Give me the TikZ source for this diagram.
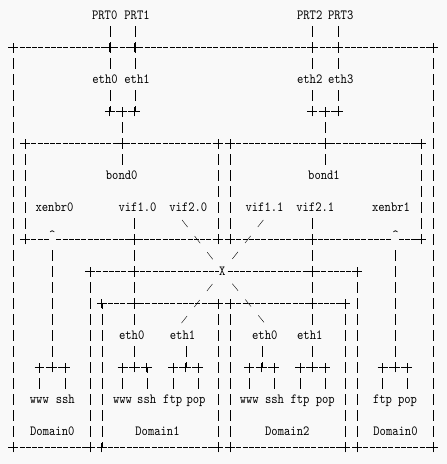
\documentclass[tikz,border=0pt]{standalone}
\usepackage{fontspec}
\newfontfamily\asc{lmmono10-regular.otf}[FakeStretch=0.86]
\usetikzlibrary{shapes.misc}
\pgfdeclarelayer{wires}
\pgfsetlayers{wires,main}
\definecolor{bg}{RGB}{249,249,249}
\begin{document}
\begin{tikzpicture}[x=1pt, y=-1pt, line width=0.9pt,
	lbl/.style = {fill=bg, inner sep=0.5pt, text height=9.2pt, text depth=0.6pt, font=\asc\fontsize{14pt}{16pt}\selectfont},
	crt/.style = {lbl, anchor=base, text depth=5.5pt},
	jn/.style = {draw, cross out, rotate=45, minimum size=6pt, inner sep=0pt},
	hl/.style = {dash pattern=on 5pt off 1.25pt},
	vl/.style = {dash pattern=on 10.7pt off 5.3pt, dash phase=5.35pt},
	dg/.style = {dash pattern=on 9pt off 11.4pt, dash phase=4.5pt}]
	\useasboundingbox (0,0) rectangle (447,464);
	% ports and nics
	\node[lbl] (prt0) at (104.7,15.5) {PRT0};
	\node[lbl] (prt1) at (137,15.5) {PRT1};
	\node[lbl] (prt2) at (309.7,15.5) {PRT2};
	\node[lbl] (prt3) at (340.7,15.5) {PRT3};
	\node[lbl] (eth0) at (105,79.5) {eth0};
	\node[lbl] (eth1) at (137,79.5) {eth1};
	\node[lbl] (eth2) at (309.7,79.5) {eth2};
	\node[lbl] (eth3) at (340.7,79.5) {eth3};
	\node[lbl] (bond0) at (121.7,175.5) {bond0};
	\node[lbl] (bond1) at (324,175.5) {bond1};
	\node[lbl] (xenbr0) at (54.5,207.5) {xenbr0};
	\node[lbl] (vif10) at (137.5,207.5) {vif1.0};
	\node[lbl] (vif20) at (188.3,207.5) {vif2.0};
	\node[lbl] (vif11) at (264.5,207.5) {vif1.1};
	\node[lbl] (vif21) at (315.3,207.5) {vif2.1};
	\node[lbl] (xenbr1) at (391,207.5) {xenbr1};
	\node[crt] (br0) at (52.3,239.5) {\textasciicircum};
	\node[crt] (br1) at (395.5,239.5) {\textasciicircum};
	\node[lbl] (X) at (222.3,271.5) {X};
	% domains
	\node[lbl] (d1eth0) at (131.7,335.5) {eth0};
	\node[lbl] (d1eth1) at (182.5,335.5) {eth1};
	\node[lbl] (d2eth0) at (264.8,335.5) {eth0};
	\node[lbl] (d2eth1) at (309.8,335.5) {eth1};
	\node[lbl] (d0www) at (39.4,399.5) {www};
	\node[lbl] (d0ssh) at (65.3,399.5) {ssh};
	\node[lbl] (d1www) at (122.5,399.5) {www};
	\node[lbl] (d1ssh) at (146.7,399.5) {ssh};
	\node[lbl] (d1ftp) at (172.7,399.5) {ftp};
	\node[lbl] (d1pop) at (196,399.5) {pop};
	\node[lbl] (d2www) at (249.3,399.5) {www};
	\node[lbl] (d2ssh) at (274.5,399.5) {ssh};
	\node[lbl] (d2ftp) at (300,399.5) {ftp};
	\node[lbl] (d2pop) at (325.3,399.5) {pop};
	\node[lbl] (d3ftp) at (382.5,399.5) {ftp};
	\node[lbl] (d3pop) at (407.5,399.5) {pop};
	\node[lbl] (dom0) at (52.3,431.5) {Domain0};
	\node[lbl] (dom1) at (157.5,431.5) {Domain1};
	\node[lbl] (dom2) at (287.3,431.5) {Domain2};
	\node[lbl] (dom3) at (395.5,431.5) {Domain0};
	% junctions
	\node[jn] (tl) at (13.3,47.5) {};
	\node[jn] (p0) at (109.7,47.5) {};
	\node[jn] (p1) at (134.7,47.5) {};
	\node[jn] (p2) at (312.3,47.5) {};
	\node[jn] (p3) at (338.3,47.5) {};
	\node[jn] (tr) at (433.3,47.5) {};
	\node[jn] (bl) at (13.3,447.5) {};
	\node[jn] (br) at (433.3,447.5) {};
	\node[jn] (j0a) at (109.7,111.5) {};
	\node[jn] (j0m) at (122.3,111.5) {};
	\node[jn] (j0b) at (134.7,111.5) {};
	\node[jn] (j1a) at (312.3,111.5) {};
	\node[jn] (j1m) at (325,111.5) {};
	\node[jn] (j1b) at (338.3,111.5) {};
	\node[jn] (b0tl) at (25,143.5) {};
	\node[jn] (b0tm) at (122.3,143.5) {};
	\node[jn] (b0tr) at (218,143.5) {};
	\node[jn] (b0bl) at (25,239.5) {};
	\node[jn] (b0bm) at (134.3,239.5) {};
	\node[jn] (b0br) at (218,239.5) {};
	\node[jn] (b1tl) at (230,143.5) {};
	\node[jn] (b1tm) at (325,143.5) {};
	\node[jn] (b1tr) at (421,143.5) {};
	\node[jn] (b1bl) at (230,239.5) {};
	\node[jn] (b1bm) at (312.3,239.5) {};
	\node[jn] (b1br) at (421,239.5) {};
	\node[jn] (xl) at (90,271.5) {};
	\node[jn] (xa) at (134.3,271.5) {};
	\node[jn] (xb) at (312.3,271.5) {};
	\node[jn] (xr) at (357,271.5) {};
	\node[jn] (d0r) at (90,447.5) {};
	\node[jn] (d1tl) at (101.7,303.5) {};
	\node[jn] (d1tm) at (134.3,303.5) {};
	\node[jn] (d1tr) at (218,303.5) {};
	\node[jn] (d1bl) at (101.7,447.5) {};
	\node[jn] (d1br) at (218,447.5) {};
	\node[jn] (d2tl) at (230,303.5) {};
	\node[jn] (d2tm) at (312.3,303.5) {};
	\node[jn] (d2tr) at (345.5,303.5) {};
	\node[jn] (d2bl) at (230,447.5) {};
	\node[jn] (d2br) at (345.5,447.5) {};
	\node[jn] (d3l) at (357,447.5) {};
	\node[jn] (s0a) at (39.4,367.5) {};
	\node[jn] (s0m) at (52.3,367.5) {};
	\node[jn] (s0b) at (65.3,367.5) {};
	\node[jn] (s1a) at (122.5,367.5) {};
	\node[jn] (s1m) at (134.3,367.5) {};
	\node[jn] (s1b) at (146.7,367.5) {};
	\node[jn] (s2a) at (173,367.5) {};
	\node[jn] (s2m) at (185.7,367.5) {};
	\node[jn] (s2b) at (198.5,367.5) {};
	\node[jn] (s3a) at (249.3,367.5) {};
	\node[jn] (s3m) at (261.7,367.5) {};
	\node[jn] (s3b) at (274.5,367.5) {};
	\node[jn] (s4a) at (300,367.5) {};
	\node[jn] (s4m) at (312.3,367.5) {};
	\node[jn] (s4b) at (325.3,367.5) {};
	\node[jn] (s5a) at (382.5,367.5) {};
	\node[jn] (s5m) at (395.5,367.5) {};
	\node[jn] (s5b) at (407.5,367.5) {};
	\begin{pgfonlayer}{wires}
		\fill[bg] (0,0) rectangle (447,464);
		% horizontal runs
		\draw[hl] (tl.center) -- (tr.center);
		\draw[hl] (j0a.center) -- (j0b.center);
		\draw[hl] (j1a.center) -- (j1b.center);
		\draw[hl] (b0tl.center) -- (b0tr.center);
		\draw[hl] (b0bl.center) -- (b0br.center);
		\draw[hl] (b1tl.center) -- (b1tr.center);
		\draw[hl] (b1bl.center) -- (b1br.center);
		\draw[hl] (xl.center) -- (xr.center);
		\draw[hl] (d1tl.center) -- (d1tr.center);
		\draw[hl] (d1bl.center) -- (d1br.center);
		\draw[hl] (d2tl.center) -- (d2tr.center);
		\draw[hl] (d2bl.center) -- (d2br.center);
		\draw[hl] (bl.center) -- (d0r.center);
		\draw[hl] (d3l.center) -- (br.center);
		\draw[hl] (s0a.center) -- (s0b.center);
		\draw[hl] (s1a.center) -- (s1b.center);
		\draw[hl] (s2a.center) -- (s2b.center);
		\draw[hl] (s3a.center) -- (s3b.center);
		\draw[hl] (s4a.center) -- (s4b.center);
		\draw[hl] (s5a.center) -- (s5b.center);
		% vertical runs
		\draw[vl] (tl.center) -- (bl.center);
		\draw[vl] (tr.center) -- (br.center);
		\draw[vl] (prt0 -| p0) -- (eth0 -| p0);
		\draw[vl] (prt1 -| p1) -- (eth1 -| p1);
		\draw[vl] (prt2 -| p2) -- (eth2 -| p2);
		\draw[vl] (prt3 -| p3) -- (eth3 -| p3);
		\draw[vl] (eth0 -| j0a) -- (j0a.center);
		\draw[vl] (eth1 -| j0b) -- (j0b.center);
		\draw[vl] (eth2 -| j1a) -- (j1a.center);
		\draw[vl] (eth3 -| j1b) -- (j1b.center);
		\draw[vl] (j0m.center) -- (bond0 -| j0m);
		\draw[vl] (j1m.center) -- (bond1 -| j1m);
		\draw[vl] (b0tl.center) -- (b0bl.center);
		\draw[vl] (b0tr.center) -- (b0br.center);
		\draw[vl] (b1tl.center) -- (b1bl.center);
		\draw[vl] (b1tr.center) -- (b1br.center);
		\draw[vl] (vif10 -| xa) -- (d1eth0 -| xa);
		\draw[vl] (vif21 -| xb) -- (d2eth1 -| xb);
		\draw[vl] (xl.center) -- (d0r.center);
		\draw[vl] (xr.center) -- (d3l.center);
		\draw[vl] (d1tl.center) -- (d1bl.center);
		\draw[vl] (d1tr.center) -- (d1br.center);
		\draw[vl] (d2tl.center) -- (d2bl.center);
		\draw[vl] (d2tr.center) -- (d2br.center);
		\draw[vl] (br0.base) -- (s0m.center);
		\draw[vl] (br1.base) -- (s5m.center);
		\draw[vl] (d1eth0 -| s1m) -- (s1m.center);
		\draw[vl] (d1eth1 -| s2m) -- (s2m.center);
		\draw[vl] (d2eth0 -| s3m) -- (s3m.center);
		\draw[vl] (d2eth1 -| s4m) -- (s4m.center);
		\draw[vl] (s0a.center) -- (d0www -| s0a);
		\draw[vl] (s0b.center) -- (d0ssh -| s0b);
		\draw[vl] (s1a.center) -- (d1www -| s1a);
		\draw[vl] (s1b.center) -- (d1ssh -| s1b);
		\draw[vl] (s2a.center) -- (d1ftp -| s2a);
		\draw[vl] (s2b.center) -- (d1pop -| s2b);
		\draw[vl] (s3a.center) -- (d2www -| s3a);
		\draw[vl] (s3b.center) -- (d2ssh -| s3b);
		\draw[vl] (s4a.center) -- (d2ftp -| s4a);
		\draw[vl] (s4b.center) -- (d2pop -| s4b);
		\draw[vl] (s5a.center) -- (d3ftp -| s5a);
		\draw[vl] (s5b.center) -- (d3pop -| s5b);
		% the switch X
		\draw[dg] ([xshift=-16pt]vif20.center) -- (X.center);
		\draw[dg] ([xshift=8.8pt]vif11.center) -- (X.center);
		\draw[dg] (X.center) -- ([xshift=-10.8pt]d1eth1.center);
		\draw[dg] (X.center) -- ([xshift=10pt]d2eth0.center);
	\end{pgfonlayer}
\end{tikzpicture}
\end{document}
